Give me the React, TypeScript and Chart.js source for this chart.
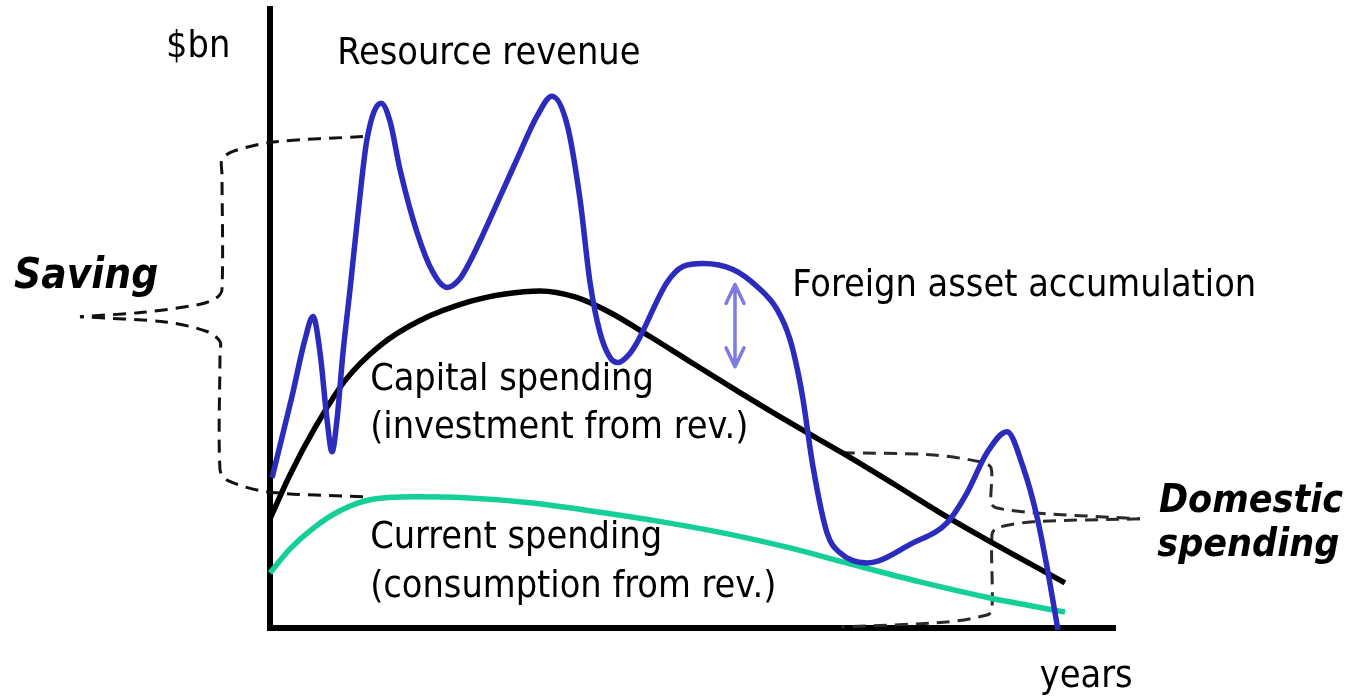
import React, { useEffect, useRef } from 'react';
import { Chart, registerables } from 'chart.js';

Chart.register(...registerables);

// x: years (0–100 schematic), y: $bn (0–100 schematic)
const resourceRevenue: [number, number][] = [
  [0.24, 24.27], [2.6, 37.38], [4.14, 46.6], [5.09, 50.32], [5.92, 44.5],
  [6.75, 33.66], [7.34, 28.48], [7.93, 33.66], [8.64, 44.5], [9.47, 54.69],
  [10.41, 66.83], [11.48, 78.96], [13.14, 84.79], [14.2, 81.88], [15.38, 74.11],
  [17.4, 63.92], [19.29, 57.44], [20.95, 55.02], [22.49, 56.47], [23.67, 59.22],
  [25.21, 63.59], [29.23, 75.73], [31.6, 82.69], [33.37, 85.92], [35.15, 81.39],
  [36.69, 69.26], [37.87, 55.83], [39.05, 47.73], [40.24, 43.69], [41.18, 42.88],
  [42.37, 44.01], [43.43, 46.12], [46.98, 55.83], [48.88, 58.41], [51.24, 58.9],
  [54.79, 57.93], [57.63, 55.18], [60.0, 51.46], [61.54, 46.6], [62.49, 41.26],
  [63.08, 36.89], [64.26, 26.05], [65.92, 15.37], [67.46, 12.14], [70.65, 10.52],
  [76.09, 13.75], [80.12, 16.99], [82.49, 21.84], [84.85, 28.32], [87.22, 31.72],
  [89.11, 26.05], [90.77, 17.96], [91.95, 9.87], [93.25, -0.32],
];

const capitalSpending: [number, number][] = [
  [0, 17.64], [2.37, 24.76], [5.33, 32.36], [8.88, 39.97], [13.02, 45.63],
  [17.75, 49.68], [23.67, 52.75], [27.81, 53.96], [31.95, 54.45], [36.09, 53.48],
  [40.24, 50.97], [44.97, 47.09], [49.7, 43.04], [55.62, 38.03], [61.54, 33.17],
  [67.69, 28.32], [73.96, 23.14], [80.12, 17.96], [86.98, 12.62], [94.08, 7.28],
];

const currentSpending: [number, number][] = [
  [0, 8.9], [2.37, 12.78], [5.33, 16.34], [8.28, 18.93], [11.83, 20.71],
  [17.16, 21.2], [23.08, 21.04], [30.77, 20.23], [39.05, 18.69], [46.75, 17.06],
  [54.44, 15.13], [61.54, 12.94], [68.64, 10.36], [76.92, 7.44], [85.21, 4.85],
  [94.08, 2.59],
];

const savingBraceTop: [number, number][] = [
  [11.0, 79.4], [0.36, 78.5], [-4.38, 77.0], [-5.68, 75.7], [-5.68, 73.3],
  [-5.68, 54.7], [-6.27, 53.4], [-8.28, 52.3], [-15.03, 51.0], [-22.49, 50.3],
];
const savingBraceBottom: [number, number][] = [
  [11.0, 21.2], [-0.36, 22.0], [-5.09, 23.9], [-5.92, 25.6], [-5.92, 44.2],
  [-5.92, 46.3], [-7.46, 47.9], [-12.19, 49.4], [-22.49, 50.3],
];
const domesticBraceTop: [number, number][] = [
  [67.69, 28.32], [78.11, 27.99], [84.02, 26.86], [85.33, 25.89], [85.33, 20.23],
  [85.92, 19.42], [90.3, 18.61], [102.96, 17.64],
];
const domesticBraceBottom: [number, number][] = [
  [102.96, 17.64], [90.3, 17.15], [86.04, 16.18], [85.44, 15.05], [85.44, 2.91],
  [84.85, 2.1], [80.12, 0.97], [67.69, 0.16],
];

// gap arrow: [year, low $bn, high $bn]
const foreignAssetGap: [number, number, number] = [55.03, 42.2, 55.5];

type Label = { text: string; x: number; y: number; bold?: boolean; size: number };
const labels: Label[] = [
  { text: '$bn', x: -12.3, y: 92.2, size: 37.5 },
  { text: 'Resource revenue', x: 7.95, y: 91.1, size: 37.5 },
  { text: 'Foreign asset accumulation', x: 61.8, y: 53.56, size: 37.5 },
  { text: 'Capital spending', x: 11.85, y: 38.5, size: 37.5 },
  { text: '(investment from rev.)', x: 11.85, y: 30.7, size: 37.5 },
  { text: 'Current spending', x: 11.85, y: 12.9, size: 37.5 },
  { text: '(consumption from rev.)', x: 11.85, y: 5.0, size: 37.5 },
  { text: 'years', x: 91.1, y: -9.55, size: 37.5 },
  { text: 'Saving', x: -30.3, y: 55.0, bold: true, size: 42 },
  { text: 'Domestic', x: 105.2, y: 18.8, bold: true, size: 39 },
  { text: 'spending', x: 105.0, y: 11.65, bold: true, size: 39 },
];

const FONT = '"DejaVu Sans Condensed", "DejaVu Sans"';

const toXY = (arr: [number, number][]) => arr.map(([x, y]) => ({ x, y }));

const overlayPlugin = {
  id: 'overlay',
  afterDatasetsDraw(chart: any) {
    const { ctx, scales } = chart;
    const xs = scales.x;
    const ys = scales.y;
    ctx.save();
    const ax = xs.getPixelForValue(foreignAssetGap[0]);
    const ay1 = ys.getPixelForValue(foreignAssetGap[1]);
    const ay2 = ys.getPixelForValue(foreignAssetGap[2]);
    ctx.strokeStyle = '#7b7be0';
    ctx.lineWidth = 3.5;
    ctx.lineCap = 'round';
    ctx.lineJoin = 'round';
    ctx.beginPath();
    ctx.moveTo(ax, ay1);
    ctx.lineTo(ax, ay2);
    ctx.moveTo(ax - 9, ay2 + 19);
    ctx.lineTo(ax, ay2);
    ctx.lineTo(ax + 9, ay2 + 19);
    ctx.moveTo(ax - 9, ay1 - 19);
    ctx.lineTo(ax, ay1);
    ctx.lineTo(ax + 9, ay1 - 19);
    ctx.stroke();
    ctx.fillStyle = '#000';
    ctx.textBaseline = 'alphabetic';
    ctx.textAlign = 'left';
    labels.forEach((l) => {
      ctx.font = (l.bold ? 'italic bold ' : '') + l.size + 'px ' + FONT;
      ctx.fillText(l.text, xs.getPixelForValue(l.x), ys.getPixelForValue(l.y));
    });
    ctx.restore();
  },
};

export default function App() {
  const ref = useRef<HTMLCanvasElement | null>(null);
  useEffect(() => {
    document.body.style.margin = '0';
    if (!ref.current) return;
    const dashed = (data: [number, number][], color: string) => ({
      data: toXY(data),
      borderColor: color,
      borderWidth: 3,
      borderDash: [13, 8],
      pointRadius: 0,
      tension: 0.3,
      fill: false,
      clip: false as any,
      order: 5,
    });
    const curve = (data: [number, number][], color: string, order: number) => ({
      data: toXY(data),
      borderColor: color,
      borderWidth: 5.5,
      pointRadius: 0,
      cubicInterpolationMode: 'monotone' as const,
      fill: false,
      clip: false as any,
      order,
    });
    const chart = new Chart(ref.current, {
      type: 'line',
      data: {
        datasets: [
          curve(resourceRevenue, '#2b2bbd', 1),
          curve(capitalSpending, '#000000', 2),
          curve(currentSpending, '#14cf98', 3),
          dashed(savingBraceTop, '#111111'),
          dashed(savingBraceBottom, '#111111'),
          dashed(domesticBraceTop, '#2a2a2a'),
          dashed(domesticBraceBottom, '#2a2a2a'),
        ],
      },
      options: {
        animation: false,
        responsive: true,
        maintainAspectRatio: false,
        layout: { padding: { left: 270, right: 244, top: 9, bottom: 71 } },
        plugins: { legend: { display: false }, tooltip: { enabled: false }, title: { display: false } },
        scales: {
          x: {
            type: 'linear',
            min: 0,
            max: 100,
            grid: { display: false, drawTicks: false },
            ticks: { display: false },
            border: { display: true, color: '#000', width: 6 },
          },
          y: {
            type: 'linear',
            min: 0,
            max: 100,
            grid: { display: false, drawTicks: false },
            ticks: { display: false },
            border: { display: true, color: '#000', width: 6 },
          },
        },
      },
      plugins: [overlayPlugin],
    });
    return () => chart.destroy();
  }, []);
  return (
    <div style={{ position: 'relative', width: '1359px', height: '699px', background: '#fff' }}>
      <canvas ref={ref} />
    </div>
  );
}
